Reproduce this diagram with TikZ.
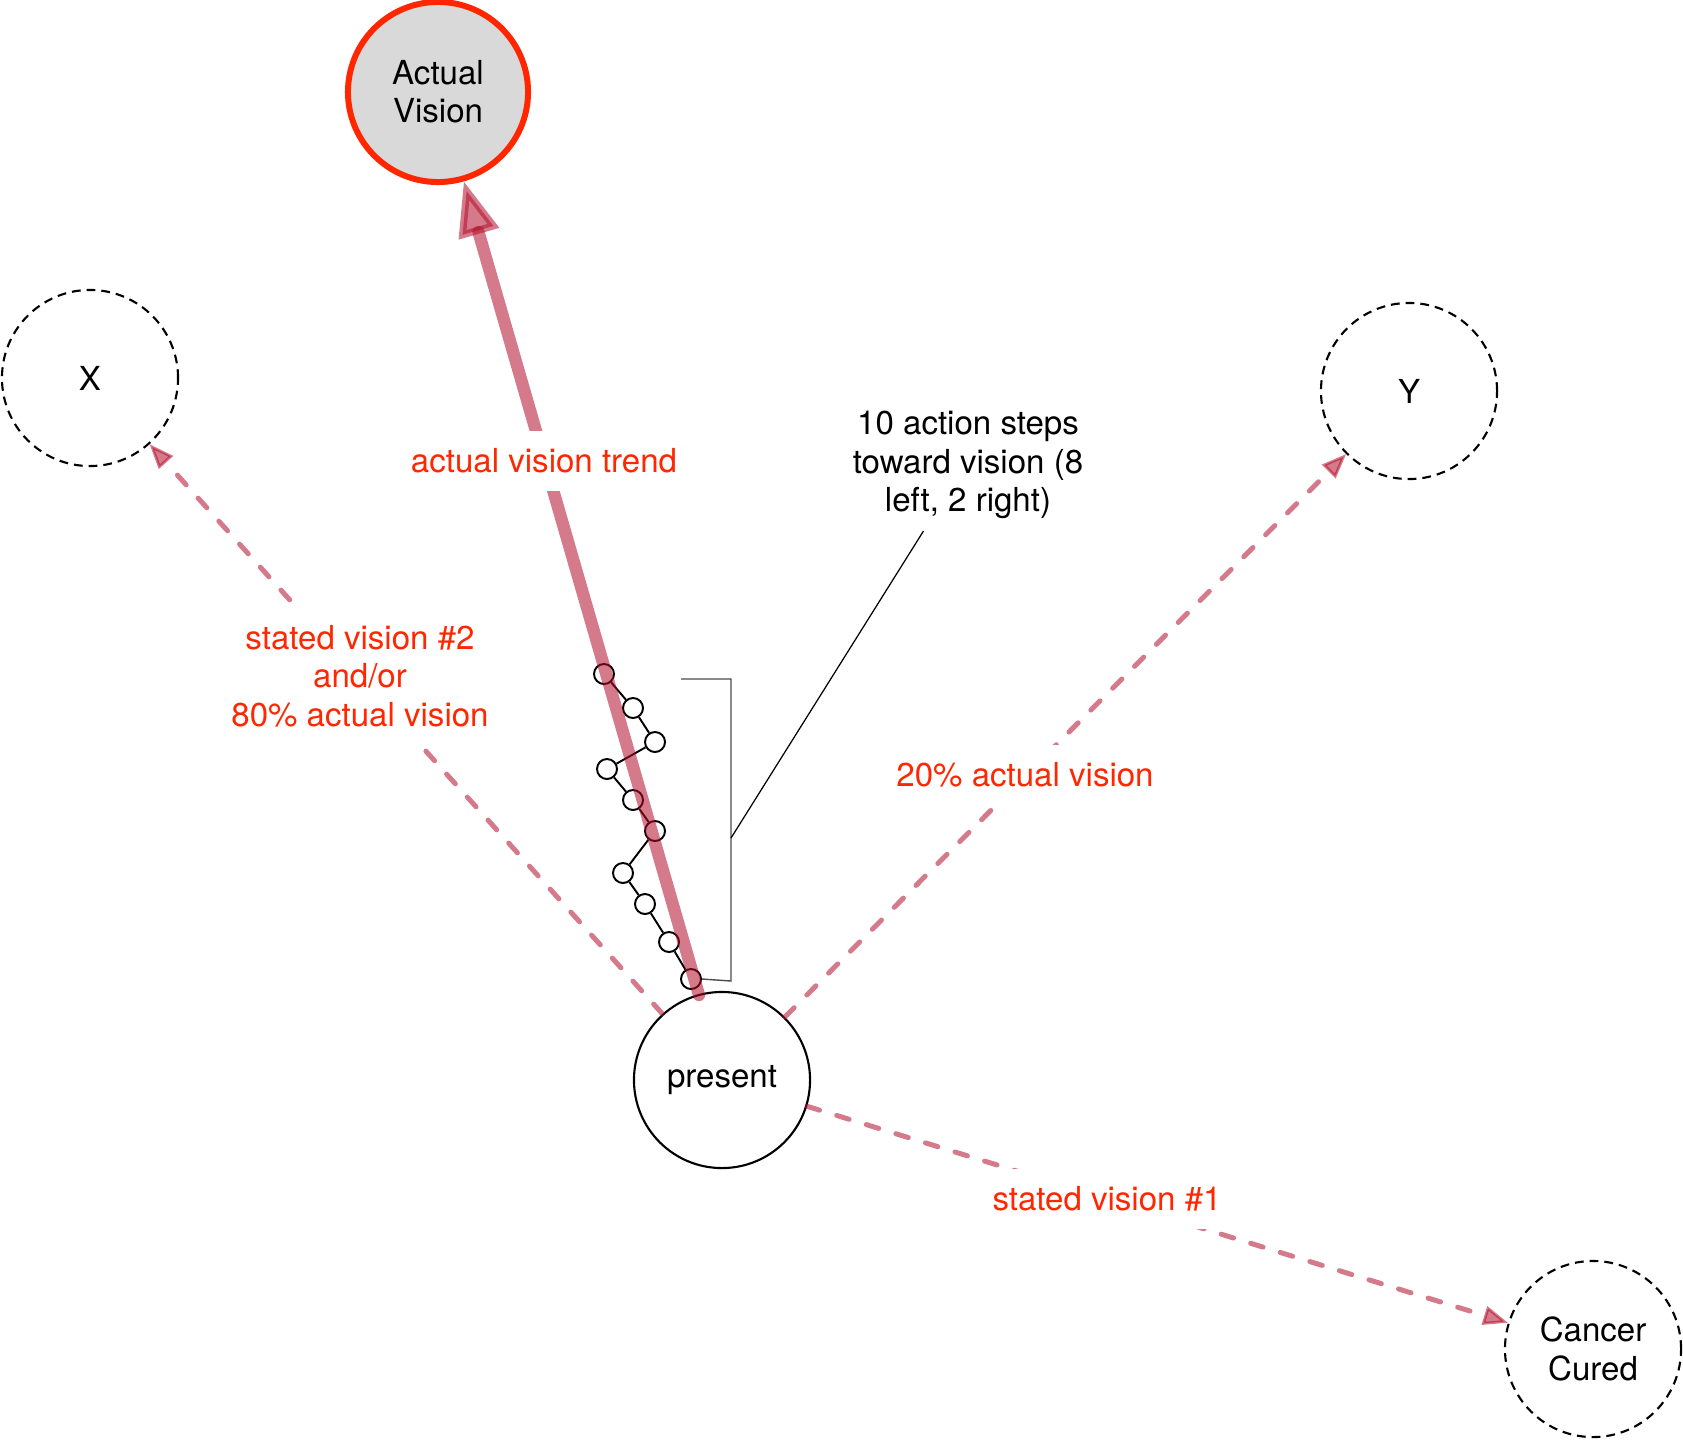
\documentclass[tikz,border=0pt]{standalone}
\usepackage{fontspec}
\setmainfont{TeX Gyre Heros}
\usetikzlibrary{arrows.meta}
\definecolor{visred}{RGB}{255,38,0}
\definecolor{trendcol}{RGB}{177,13,41}
\definecolor{avfill}{RGB}{217,217,217}

\begin{document}
\begin{tikzpicture}[x=0.01cm, y=-0.01cm,
  every node/.style={font=\fontsize{9.4pt}{10.9pt}\selectfont},
  goal/.style={circle, draw, line width=0.6pt, dash pattern=on 2.5pt off 1.7pt, minimum size=1.76cm, inner sep=0pt, align=center},
  here/.style={circle, draw, fill=white, line width=0.6pt, minimum size=1.76cm, inner sep=0pt},
  actual/.style={circle, draw=visred, fill=avfill, line width=1.7pt, minimum size=1.8cm, inner sep=0pt, align=center},
  stepdot/.style={circle, draw, fill=white, line width=0.55pt, minimum size=0.2cm, inner sep=0pt},
  vision/.style={draw=trendcol, opacity=0.55, line width=1.42pt, line cap=round, dash pattern=on 3.7pt off 5.1pt, -{Triangle[length=7pt, width=5.4pt, line width=0.8pt]}},
  trend/.style={draw=trendcol, opacity=0.55, line width=3.5pt, line cap=round, -{Triangle[length=15.5pt, width=11.5pt, line width=2pt]}},
  lbl/.style={fill=white, text=visred, inner sep=5pt, align=center}]
  \useasboundingbox (0,0) rectangle (1683,1439);
  \node[actual] (av) at (438,92) {Actual\\Vision};
  \node[goal] (x) at (90,378) {X};
  \node[goal] (y) at (1409,391) {Y};
  \node[goal] (cc) at (1593,1349) {Cancer\\Cured};
  \node[here] (present) at (722,1080) {present};
  \node[stepdot] (s1) at (604,674) {};
  \node[stepdot] (s2) at (633,708) {};
  \node[stepdot] (s3) at (655,742) {};
  \node[stepdot] (s4) at (607,769) {};
  \node[stepdot] (s5) at (633,800) {};
  \node[stepdot] (s6) at (655,831) {};
  \node[stepdot] (s7) at (623,873) {};
  \node[stepdot] (s8) at (645,904) {};
  \node[stepdot] (s9) at (669,942) {};
  \node[stepdot] (s10) at (691,979) {};
  \draw[line width=0.55pt] (s1) -- (s2) -- (s3) -- (s4) -- (s5) -- (s6) -- (s7) -- (s8) -- (s9) -- (s10);
  \coordinate (bt) at (681,679);
  \coordinate (bb) at (731,981);
  \coordinate (cl) at (731,838);
  \draw[black!70, line width=0.4pt] (bt) -| (bb) -- (s10.east);
  \node[align=center] (steps) at (968,465) {10 action steps\\toward vision (8\\left, 2 right)};
  \draw[line width=0.35pt] (cl) -- (steps.236);
  \draw[vision] (present) -- (x);
  \draw[vision] (present) -- (y);
  \draw[vision] (present) -- (cc);
  \coordinate (ts) at (699,995);
  \draw[trend] (ts) -- (av);
  \node[lbl] (ltrend) at (544,461) {actual vision trend};
  \node[lbl] (lx) at (360,676) {stated vision \#2\\and/or\\80\% actual vision};
  \node[lbl] (ly) at (1025,775) {20\% actual vision};
  \node[lbl] (lcc) at (1107,1199) {stated vision \#1};
\end{tikzpicture}
\end{document}
